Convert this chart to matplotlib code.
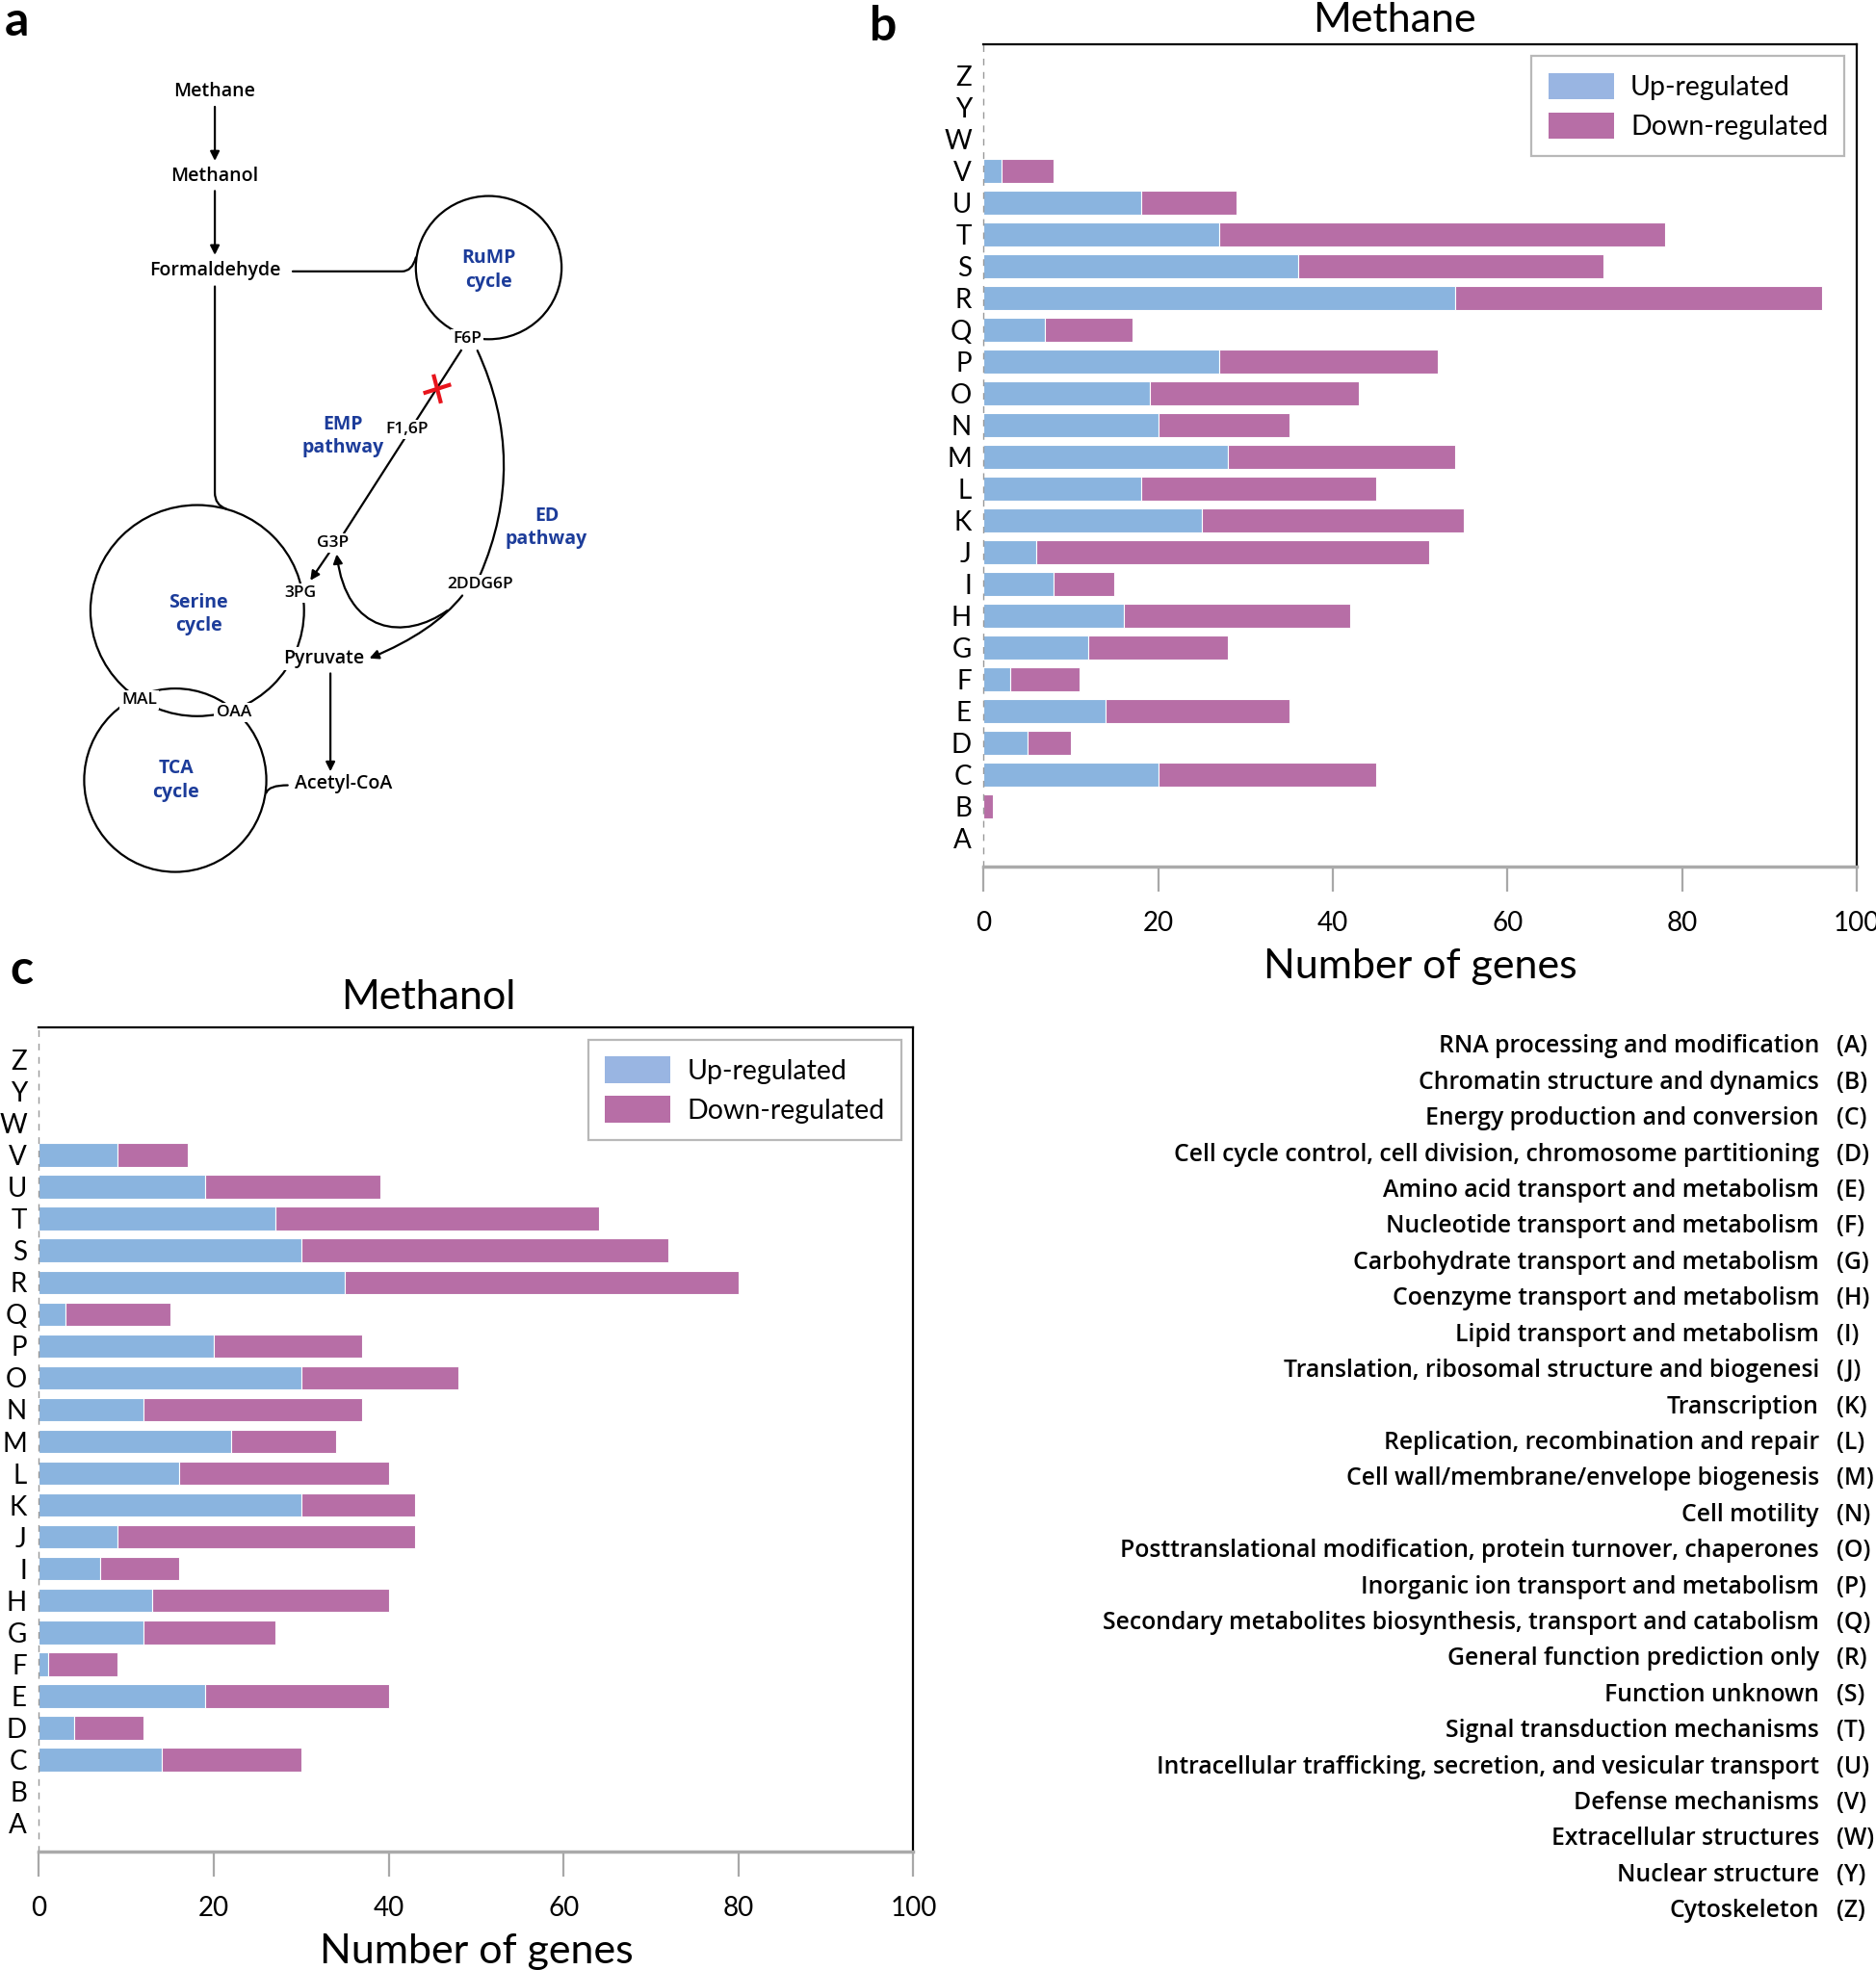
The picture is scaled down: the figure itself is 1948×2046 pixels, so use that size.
import numpy as np
import matplotlib
matplotlib.use('Agg')
import matplotlib.pyplot as plt
from matplotlib.patches import Ellipse, FancyArrowPatch, Patch
from matplotlib.path import Path

plt.rcParams['font.family'] = ['Lato', 'DejaVu Sans']
label_font = ['Open Sans', 'DejaVu Sans']

# COG categories (bottom to top)
categories = ['A', 'B', 'C', 'D', 'E', 'F', 'G', 'H', 'I', 'J', 'K', 'L', 'M',
              'N', 'O', 'P', 'Q', 'R', 'S', 'T', 'U', 'V', 'W', 'Y', 'Z']
methane_up = [0, 0, 20, 5, 14, 3, 12, 16, 8, 6, 25, 18, 28,
              20, 19, 27, 7, 54, 36, 27, 18, 2, 0, 0, 0]
methane_down = [0, 1, 25, 5, 21, 8, 16, 26, 7, 45, 30, 27, 26,
                15, 24, 25, 10, 42, 35, 51, 11, 6, 0, 0, 0]
methanol_up = [0, 0, 14, 4, 19, 1, 12, 13, 7, 9, 30, 16, 22,
               12, 30, 20, 3, 35, 30, 27, 19, 9, 0, 0, 0]
methanol_down = [0, 0, 16, 8, 21, 8, 15, 27, 9, 34, 13, 24, 12,
                 25, 18, 17, 12, 45, 42, 37, 20, 8, 0, 0, 0]
descriptions = [
    'RNA processing and modification',
    'Chromatin structure and dynamics',
    'Energy production and conversion',
    'Cell cycle control, cell division, chromosome partitioning',
    'Amino acid transport and metabolism',
    'Nucleotide transport and metabolism',
    'Carbohydrate transport and metabolism',
    'Coenzyme transport and metabolism',
    'Lipid transport and metabolism',
    'Translation, ribosomal structure and biogenesi',
    'Transcription',
    'Replication, recombination and repair',
    'Cell wall/membrane/envelope biogenesis',
    'Cell motility',
    'Posttranslational modification, protein turnover, chaperones',
    'Inorganic ion transport and metabolism',
    'Secondary metabolites biosynthesis, transport and catabolism',
    'General function prediction only',
    'Function unknown',
    'Signal transduction mechanisms',
    'Intracellular trafficking, secretion, and vesicular transport',
    'Defense mechanisms',
    'Extracellular structures',
    'Nuclear structure',
    'Cytoskeleton',
]

up_color = '#8ab4df'
down_color = '#b76ea6'
blue_txt = '#1c3c9a'

fig = plt.figure(figsize=(19.49, 20.46), dpi=100)

# overlay axes in (shrunk) pixel coordinates for the schematic and text
ax0 = fig.add_axes([0, 0, 1, 1])
ax0.set_xlim(0, 1494)
ax0.set_ylim(1568, 0)
ax0.axis('off')

# panel letters
for lab, x, y in [('a', 13, 17), ('b', 703, 21), ('c', 17, 772)]:
    ax0.text(x, y, lab, fontsize=36, fontweight='bold', ha='center', va='center')

# ---- panel a: pathway schematic ----
lw = 1.6
box = dict(facecolor='white', edgecolor='none', pad=1.5)


def node(x, y, s, size=14, color='black', weight='semibold', bbox=True):
    ax0.text(x, y, s, fontsize=size, color=color, fontweight=weight, family=label_font,
             ha='center', va='center', linespacing=1.3, zorder=5,
             bbox=box if bbox else None)


def curve(verts, codes, arrow=False):
    p = Path(verts, codes)
    style = '-|>' if arrow else '-'
    ax0.add_patch(FancyArrowPatch(path=p, arrowstyle=style, mutation_scale=14,
                                  color='black', lw=lw, zorder=3))


def arrow(p0, p1):
    ax0.annotate('', xy=p1, xytext=p0,
                 arrowprops=dict(arrowstyle='-|>', color='black', lw=lw,
                                 mutation_scale=14, shrinkA=0, shrinkB=0), zorder=3)


for (cx, cy, w, h) in [(389, 213, 116, 114), (157, 486, 170, 168), (139.5, 621, 145, 146)]:
    ax0.add_patch(Ellipse((cx, cy), w, h, fill=False, lw=lw, color='black', zorder=2))

arrow((171, 85), (171, 128))
arrow((171, 152), (171, 203))
curve([(233, 216), (320, 216), (328, 216), (331, 205)],
      [Path.MOVETO, Path.LINETO, Path.CURVE3, Path.CURVE3])
curve([(171, 228), (171, 392), (171, 402), (180, 405)],
      [Path.MOVETO, Path.LINETO, Path.CURVE3, Path.CURVE3])
# EMP line F6P -> G3P
ax0.plot([367, 274], [279, 424], color='black', lw=lw, zorder=3)
# ED curve F6P -> 2DDG6P
curve([(380, 279), (421, 368), (382, 458)], [Path.MOVETO, Path.CURVE3, Path.CURVE3])
# 2DDG6P -> G3P
curve([(356, 486), (322, 510), (276, 505), (268, 441)],
      [Path.MOVETO, Path.CURVE4, Path.CURVE4, Path.CURVE4], arrow=True)
# 2DDG6P -> Pyruvate
curve([(368, 474), (345, 503), (294, 524)], [Path.MOVETO, Path.CURVE3, Path.CURVE3], arrow=True)
# G3P -> 3PG
arrow((262, 440), (247, 462))
# Pyruvate -> Acetyl-CoA
arrow((263, 536), (263, 614))
# TCA -> Acetyl-CoA
curve([(212, 631), (214, 625), (229, 625)], [Path.MOVETO, Path.CURVE3, Path.CURVE3])
# red cross
ax0.plot([345, 351], [298, 321], color='#e8141c', lw=3, zorder=6, solid_capstyle='butt')
ax0.plot([337, 359], [313, 306], color='#e8141c', lw=3, zorder=6, solid_capstyle='butt')

node(171, 73, 'Methane', bbox=False)
node(171, 140, 'Methanol', bbox=False)
node(171, 215, 'Formaldehyde', bbox=False)
node(389, 215, 'RuMP\ncycle', color=blue_txt, weight='bold', bbox=False)
node(372, 270, 'F6P', size=12.5)
node(324, 342, 'F1,6P', size=12.5)
node(273, 347, 'EMP\npathway', color=blue_txt, weight='bold', bbox=False)
node(435, 420, 'ED\npathway', color=blue_txt, weight='bold', bbox=False)
node(265, 432, 'G3P', size=12.5)
node(239, 472, '3PG', size=12.5)
node(382, 465, '2DDG6P', size=12.5)
node(158, 489, 'Serine\ncycle', color=blue_txt, weight='bold', bbox=False)
node(258, 524, 'Pyruvate')
node(111, 557, 'MAL', size=12.5)
node(186, 567, 'OAA', size=12.5)
node(140, 621, 'TCA\ncycle', color=blue_txt, weight='bold', bbox=False)
node(273, 624, 'Acetyl-CoA')

# ---- category descriptions ----
row0, step = 833, 28.67
for i, (c, d) in enumerate(zip(categories, descriptions)):
    ax0.text(1448, row0 + i * step, d, fontsize=17.8, fontweight='semibold',
             family=label_font, ha='right', va='center')
    ax0.text(1462, row0 + i * step, '(%s)' % c, fontsize=17.8, fontweight='semibold',
             family=label_font, ha='left', va='center')


# ---- bar panels ----
def draw_bars(ax, up, down, title, title_x, title_pad):
    y = np.arange(len(categories))
    ax.barh(y, up, height=0.74, color=up_color, edgecolor='white', linewidth=0.8)
    ax.barh(y, down, left=up, height=0.74, color=down_color, edgecolor='white', linewidth=0.8)
    ax.set_xlim(0, 100)
    ax.set_ylim(-0.9, 25)
    ax.set_yticks(y)
    ax.set_yticklabels(categories)
    ax.set_xticks([0, 20, 40, 60, 80, 100])
    ax.tick_params(axis='y', length=0, labelsize=20, pad=9)
    ax.tick_params(axis='x', length=19, width=1.6, color='#a8a8a8', labelsize=20, pad=14)
    ax.spines['left'].set_linestyle((0, (4, 6)))
    ax.spines['left'].set_color('#999999')
    ax.spines['left'].set_linewidth(1.0)
    ax.spines['bottom'].set_color('#aaaaaa')
    ax.spines['bottom'].set_linewidth(2.5)
    for s in ['top', 'right']:
        ax.spines[s].set_color('black')
        ax.spines[s].set_linewidth(1.6)
    ax.set_xlabel('Number of genes', fontsize=31, labelpad=9)
    ax.set_title(title, fontsize=31, pad=title_pad, x=title_x)
    handles = [Patch(facecolor='#99b5e2', edgecolor='none', label='Up-regulated'),
               Patch(facecolor=down_color, edgecolor='none', label='Down-regulated')]
    leg = ax.legend(handles=handles, loc='upper right', fontsize=20.5, fancybox=False,
                    framealpha=1, edgecolor='#b8b8b8', handlelength=2.4, handleheight=1.1,
                    borderpad=0.6, labelspacing=0.45, handletextpad=0.6,
                    borderaxespad=0.45)
    leg.get_frame().set_linewidth(1.6)


ax_b = fig.add_axes([783 / 1494, 1 - 690 / 1568, (1478 - 783) / 1494, (690 - 35) / 1568])
draw_bars(ax_b, methane_up, methane_down, 'Methane', 0.47, 9)

ax_c = fig.add_axes([31 / 1494, 1 - 1474 / 1568, (727 - 31) / 1494, (1474 - 818) / 1568])
draw_bars(ax_c, methanol_up, methanol_down, 'Methanol', 0.445, 14)

fig.savefig('out.png', dpi=100)
